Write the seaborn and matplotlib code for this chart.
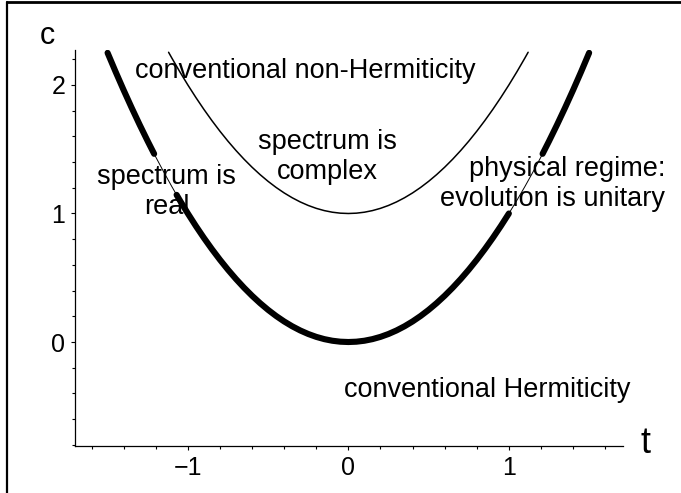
import numpy as np
import pandas as pd
import matplotlib
matplotlib.use('Agg')
import matplotlib.pyplot as plt
from matplotlib.lines import Line2D
from matplotlib.ticker import MultipleLocator
import seaborn as sns

sns.set_style('ticks')
plt.rcParams['font.family'] = ['Liberation Sans', 'DejaVu Sans']
plt.rcParams['text.color'] = 'black'
plt.rcParams['xtick.labelcolor'] = 'black'
plt.rcParams['ytick.labelcolor'] = 'black'

# lower curve c = t^2
t_low = [-1.50, -1.45, -1.40, -1.35, -1.30, -1.25, -1.21, -1.20, -1.15, -1.10,
         -1.07, -1.05, -1.00, -0.95, -0.90, -0.85, -0.80, -0.75, -0.70, -0.65,
         -0.60, -0.55, -0.50, -0.45, -0.40, -0.35, -0.30, -0.25, -0.20, -0.15,
         -0.10, -0.05, 0.00, 0.05, 0.10, 0.15, 0.20, 0.25, 0.30, 0.35,
         0.40, 0.45, 0.50, 0.55, 0.60, 0.65, 0.70, 0.75, 0.80, 0.85,
         0.90, 0.95, 1.00, 1.05, 1.10, 1.15, 1.20, 1.21, 1.25, 1.30,
         1.35, 1.40, 1.45, 1.50]
c_low = [2.25, 2.1025, 1.96, 1.8225, 1.69, 1.5625, 1.4641, 1.44, 1.3225, 1.21,
         1.1449, 1.1025, 1.00, 0.9025, 0.81, 0.7225, 0.64, 0.5625, 0.49, 0.4225,
         0.36, 0.3025, 0.25, 0.2025, 0.16, 0.1225, 0.09, 0.0625, 0.04, 0.0225,
         0.01, 0.0025, 0.00, 0.0025, 0.01, 0.0225, 0.04, 0.0625, 0.09, 0.1225,
         0.16, 0.2025, 0.25, 0.3025, 0.36, 0.4225, 0.49, 0.5625, 0.64, 0.7225,
         0.81, 0.9025, 1.00, 1.1025, 1.21, 1.3225, 1.44, 1.4641, 1.5625, 1.69,
         1.8225, 1.96, 2.1025, 2.25]

# upper curve c = t^2 + 1
t_up = [-1.12, -1.10, -1.05, -1.00, -0.95, -0.90, -0.85, -0.80, -0.75, -0.70,
        -0.65, -0.60, -0.55, -0.50, -0.45, -0.40, -0.35, -0.30, -0.25, -0.20,
        -0.15, -0.10, -0.05, 0.00, 0.05, 0.10, 0.15, 0.20, 0.25, 0.30,
        0.35, 0.40, 0.45, 0.50, 0.55, 0.60, 0.65, 0.70, 0.75, 0.80,
        0.85, 0.90, 0.95, 1.00, 1.05, 1.10, 1.12]
c_up = [2.2544, 2.21, 2.1025, 2.00, 1.9025, 1.81, 1.7225, 1.64, 1.5625, 1.49,
        1.4225, 1.36, 1.3025, 1.25, 1.2025, 1.16, 1.1225, 1.09, 1.0625, 1.04,
        1.0225, 1.01, 1.0025, 1.00, 1.0025, 1.01, 1.0225, 1.04, 1.0625, 1.09,
        1.1225, 1.16, 1.2025, 1.25, 1.3025, 1.36, 1.4225, 1.49, 1.5625, 1.64,
        1.7225, 1.81, 1.9025, 2.00, 2.1025, 2.21, 2.2544]

# t-ranges where the lower curve is drawn bold
bold_ranges = [(-1.50, -1.21), (-1.07, 1.00), (1.21, 1.50)]

low = pd.DataFrame({'t': t_low, 'c': c_low})
up = pd.DataFrame({'t': t_up, 'c': c_up})

fig = plt.figure(figsize=(6.81, 4.93), dpi=100)
ax = fig.add_axes([75 / 681, 47 / 493, 548 / 681, 396 / 493])

sns.lineplot(data=up, x='t', y='c', sort=False, estimator=None,
             color='black', lw=1.1, ax=ax)
sns.lineplot(data=low, x='t', y='c', sort=False, estimator=None,
             color='black', lw=0.7, ax=ax)
for lo, hi in bold_ranges:
    seg = low[(low['t'] >= lo) & (low['t'] <= hi)]
    sns.lineplot(data=seg, x='t', y='c', sort=False, estimator=None,
                 color='black', lw=4.4, solid_capstyle='round', ax=ax)

ax.set_xlim(-1.703, 1.711)
ax.set_ylim(-0.809, 2.272)
ax.xaxis.set_major_locator(MultipleLocator(1))
ax.xaxis.set_minor_locator(MultipleLocator(0.2))
ax.yaxis.set_major_locator(MultipleLocator(1))
ax.yaxis.set_minor_locator(MultipleLocator(0.2))
ax.tick_params(which='major', length=3, width=0.8, color='black',
               labelsize=18, pad=4, labelcolor='black')
ax.tick_params(which='minor', length=2, width=0.8, color='black')
ax.set_xlabel('')
ax.set_ylabel('')
for s in ['top', 'right']:
    ax.spines[s].set_visible(False)
for s in ['left', 'bottom']:
    ax.spines[s].set_color('black')
    ax.spines[s].set_linewidth(0.9)

ax.text(-1.874, 2.319, 'c', fontsize=22, ha='center', va='baseline')
ax.text(1.849, -0.864, 't', fontsize=26, ha='center', va='baseline')

fs = 19.5
ls = 1.18
ax.text(-1.329, 2.054, 'conventional non-Hermiticity', fontsize=fs,
        ha='left', va='baseline')
ax.text(-0.13, 1.44, 'spectrum is\ncomplex', fontsize=fs, ha='center',
        va='center', linespacing=ls)
ax.text(-1.133, 1.167, 'spectrum is\nreal', fontsize=fs, ha='center',
        va='center', linespacing=ls)
ax.text(1.974, 1.23, 'physical regime:\nevolution is unitary', fontsize=fs,
        ha='right', va='center', multialignment='right', linespacing=ls)
ax.text(-0.027, -0.428, 'conventional Hermiticity', fontsize=fs,
        ha='left', va='baseline')

# page border (left and top edges)
fig.add_artist(Line2D([7.3 / 681, 7.3 / 681], [0, 1 - 1.5 / 493],
                      transform=fig.transFigure, color='black', lw=1.6))
fig.add_artist(Line2D([7.3 / 681, 1], [1 - 1.5 / 493, 1 - 1.5 / 493],
                      transform=fig.transFigure, color='black', lw=2.0))

fig.savefig('out.png', dpi=100)
